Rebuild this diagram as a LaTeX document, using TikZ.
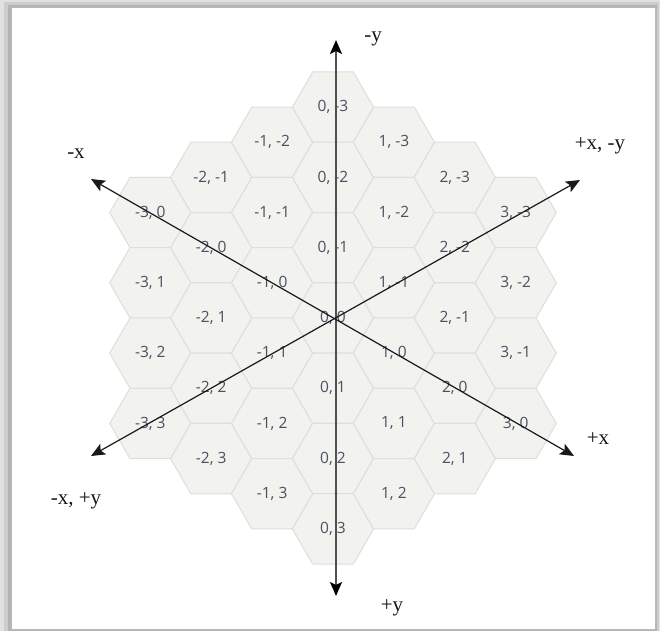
\documentclass[tikz,border=0pt]{standalone}
\usepackage{fontspec}
\setmainfont{Liberation Serif}
\newfontfamily\hexfont{Open Sans}
\usetikzlibrary{shapes.geometric,arrows.meta}
\definecolor{hexfill}{RGB}{242,242,239}
\definecolor{hexline}{RGB}{222,222,218}
\definecolor{hextext}{RGB}{72,82,98}
\definecolor{vaxiscol}{RGB}{80,80,80}
\definecolor{shadeA}{RGB}{225,225,225}
\definecolor{shadeB}{RGB}{205,205,205}
\definecolor{shadeC}{RGB}{180,180,180}
\definecolor{panelline}{RGB}{185,185,185}
\tikzset{
  hexcell/.style={regular polygon, regular polygon sides=6, minimum size=81.2pt,
    inner sep=0pt, outer sep=0pt, fill=hexfill, draw=hexline, line width=1pt,
    text=hextext, font=\hexfont\fontsize{15.5}{16}\selectfont},
  axislabel/.style={font=\fontsize{21}{22}\selectfont, text=black!90, inner sep=0pt},
  vaxis/.style={draw=vaxiscol, line width=1.8pt, {Stealth[length=14pt,width=12pt,inset=3pt,fill=black,color=black]}-{Stealth[length=14pt,width=12pt,inset=3pt,fill=black,color=black]}},
  daxis/.style={draw=black!90, line width=1.2pt, {Stealth[length=14pt,width=12pt,inset=3pt]}-{Stealth[length=14pt,width=12pt,inset=3pt]}}
}
\begin{document}
\begin{tikzpicture}[x=1pt,y=-1pt]
\useasboundingbox (0,0) rectangle (660,631);
% background and panel shadow
\fill[shadeA] (0,0) rectangle (660,631);
\fill[shadeB] (4,2) rectangle (659,631);
\fill[shadeC] (8,5) rectangle (657,631);
\fill[white,draw=panelline,line width=0.8pt] (11,7) rectangle (655,629);
% hex grid
\foreach \q in {-3,...,3}{
  \foreach \r in {-3,...,3}{
    \pgfmathtruncatemacro\sss{abs(\q+\r)}
    \ifnum\sss<4
      \node[hexcell] (hq\q r\r) at ({333+60.9*\q},{318+70.3*(\r+\q/2)}) {\raisebox{-3pt}{\q, \r}};
    \fi
  }
}
% axes
\coordinate (O) at (336,318);
\coordinate (ytop) at (336,40);
\coordinate (ybot) at (336,596);
\coordinate (mx) at (91,179);
\coordinate (px) at (574,456);
\coordinate (mxpy) at (91,456);
\coordinate (pxmy) at (580,180);
\draw[vaxis] (ytop) -- (ybot);
\draw[daxis] (mx) -- (px);
\draw[daxis] (mxpy) -- (pxmy);
% labels
\node[axislabel] (lmy) at (373,39) {-y};
\node[axislabel] (lpy) at (392,608) {+y};
\node[axislabel] (lmx) at (76,154) {-x};
\node[axislabel] (lpx) at (598,439) {+x};
\node[axislabel] (lpxmy) at (600,146) {+x, -y};
\node[axislabel] (lmxpy) at (76,501) {-x, +y};
\end{tikzpicture}
\end{document}
